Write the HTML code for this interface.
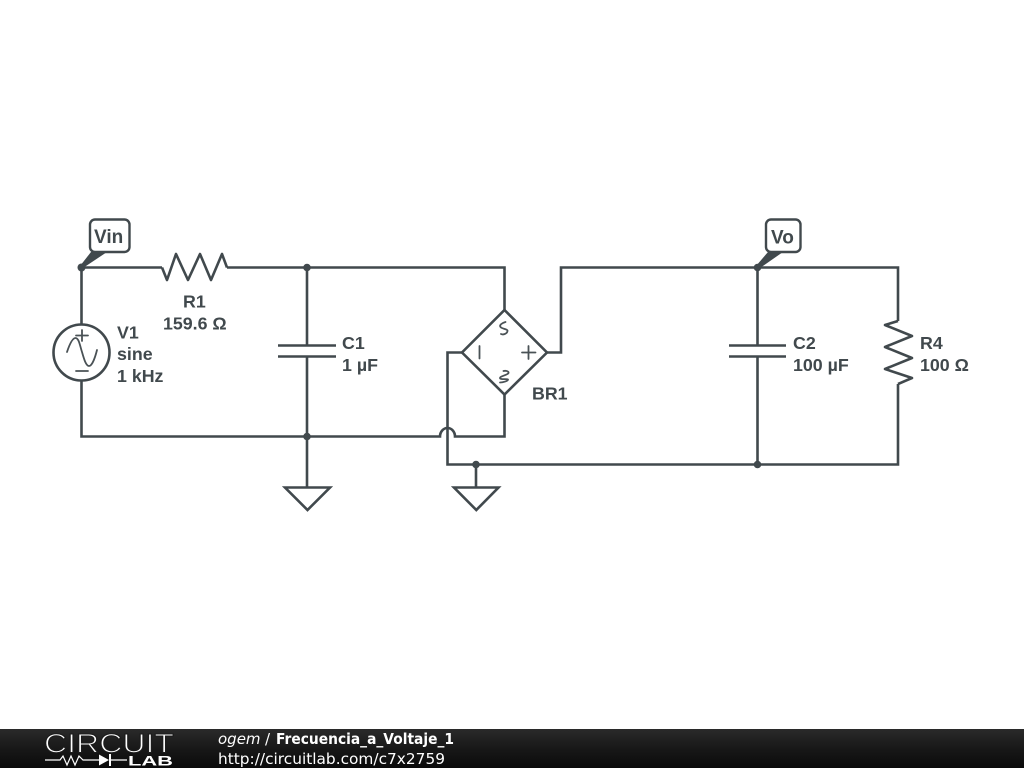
<!DOCTYPE html>
<html>
<head>
<meta charset="utf-8">
<style>
html,body{margin:0;padding:0;background:#fff;width:1024px;height:768px;overflow:hidden}
svg{display:block}
.w{fill:none;stroke:#41494d;stroke-width:2.6;stroke-linejoin:miter;stroke-linecap:butt}
.z{fill:none;stroke:#41494d;stroke-width:2.6;stroke-linejoin:round;stroke-linecap:butt}
.t{font-family:"Liberation Sans",sans-serif;font-weight:bold;font-size:17.8px;fill:#41494d}
.p{font-family:"Liberation Sans",sans-serif;font-weight:bold;font-size:19px;fill:#41494d}
.s{fill:none;stroke:#4a5256;stroke-width:1.8;stroke-linecap:round}
.f{font-family:"DejaVu Sans",sans-serif;font-size:15px;fill:#fff}
</style>
</head>
<body>
<svg width="1024" height="768" viewBox="0 0 1024 768" xmlns="http://www.w3.org/2000/svg">
<defs>
<linearGradient id="bar" x1="0" y1="0" x2="0" y2="1">
<stop offset="0" stop-color="#2a2a2a"/><stop offset="0.5" stop-color="#181818"/><stop offset="1" stop-color="#0a0a0a"/>
</linearGradient>
</defs>
<rect width="1024" height="768" fill="#fff"/>

<!-- wires -->
<path class="w" d="M81.500 324V267.500H162"/>
<path class="z" d="M162 267.500L167 280L176 254L188 280L200 254L211 280L222 254L227 267.500"/>
<path class="w" d="M227 267.500H504.500V310"/>
<path class="w" d="M81.500 381V436.500H440a7.500 8.500 0 0 1 15 0H504.500V395"/>
<path class="w" d="M307 267.500V345M307 357V487"/>
<path class="w" d="M278 345.500H336M278 356.500H336"/>
<path class="w" d="M285 487.500H330L307.500 510Z"/>
<path class="w" d="M462 352.500H447.500V464.500H898V384"/>
<path class="z" d="M898 384L912 378L885 369L912 358L885 347L912 336L885 325L898 321"/>
<path class="w" d="M898 321V267.500H561V352.500H547"/>
<path class="w" d="M476 464.500V487"/>
<path class="w" d="M454 487.500H498.500L476.300 510Z"/>
<path class="w" d="M757.500 267.500V345M757.500 357V464.500"/>
<path class="w" d="M729 345.500H786M729 356.500H786"/>

<!-- bridge -->
<path class="w" d="M504.500 310L547 352.500L504.500 394.500L462 352.500Z"/>
<path class="s" d="M522 352.500H535.500M528.500 346V359"/>
<path class="s" d="M479.500 346V358.500"/>
<path class="s" d="M505.500 322C502 323 499 325 500.500 327C502 329 508 329 507.500 331C507 334 503 335 501 334"/>
<path class="s" d="M503.500 371C505.500 370.500 509 371 508.500 373C508 375 500 376 500 378C500 380 507 378.500 508 379.500C508 381 503 382.500 500 382.500"/>

<!-- source -->
<circle cx="81.500" cy="352.500" r="28" fill="#fff" stroke="#41494d" stroke-width="2.600"/>
<path class="s" d="M67 352C70 343 73 338 75.500 338C79 338 80 346 82 352C84 359 86 366 89 366C92 366 95 358 97 350"/>
<path class="s" d="M76 335.500H88M82 330V341M76 371H88"/>

<!-- junctions -->
<g fill="#41494d">
<circle cx="81.500" cy="267.500" r="4"/>
<circle cx="307" cy="267.500" r="3.800"/>
<circle cx="307" cy="436.500" r="3.800"/>
<circle cx="476" cy="464.500" r="3.800"/>
<circle cx="757.500" cy="267.500" r="3.800"/>
<circle cx="757.500" cy="464.500" r="3.800"/>
</g>

<!-- probes -->
<path d="M80 266L91 252H107L83 268Z" fill="#41494d"/>
<rect x="90" y="219.500" width="39.500" height="32.500" rx="5" fill="#fff" stroke="#41494d" stroke-width="2.400"/>
<text class="p" x="94" y="243">Vin</text>
<path d="M756 266L768 252H783L760 268Z" fill="#41494d"/>
<rect x="766" y="219.500" width="34.500" height="32.500" rx="5" fill="#fff" stroke="#41494d" stroke-width="2.400"/>
<text class="p" x="771" y="243.500">Vo</text>

<!-- labels -->
<text class="t" x="183" y="307.500">R1</text>
<text class="t" x="163" y="329.500">159.6 Ω</text>
<text class="t" x="117" y="338.500">V1</text>
<text class="t" x="117" y="360">sine</text>
<text class="t" x="117" y="382">1 kHz</text>
<text class="t" x="342" y="349">C1</text>
<text class="t" x="342" y="371">1 µF</text>
<text class="t" x="532" y="399.500">BR1</text>
<text class="t" x="793" y="349">C2</text>
<text class="t" x="793" y="371">100 µF</text>
<text class="t" x="920" y="349">R4</text>
<text class="t" x="920" y="371">100 Ω</text>

<!-- footer -->
<rect x="0" y="729" width="1024" height="39" fill="url(#bar)"/>
<text x="44" y="752.500" font-family="'Liberation Sans',sans-serif" font-size="26.500" fill="#fff" stroke="#1c1c1c" stroke-width="1.100" style="paint-order:fill stroke" textLength="130" lengthAdjust="spacingAndGlyphs">CIRCUIT</text>
<path d="M45 760H60L63 756L67 765L71 756L75 765L79 756L83 760H99M111 760H127" fill="none" stroke="#fff" stroke-width="1.200"/>
<path d="M99 754.500L109 760L99 765.500Z" fill="#fff"/>
<path d="M110 754V766" stroke="#fff" stroke-width="2"/>
<text x="128" y="765.500" font-family="'Liberation Sans',sans-serif" font-weight="bold" font-size="14" fill="#fff" textLength="45" lengthAdjust="spacingAndGlyphs">LAB</text>
<text class="f" x="218" y="744" font-style="italic">ogem</text>
<text class="f" x="265" y="744">/</text>
<text class="f" x="276" y="744" font-weight="bold" textLength="178" lengthAdjust="spacingAndGlyphs">Frecuencia_a_Voltaje_1</text>
<text class="f" x="218" y="764" textLength="227" lengthAdjust="spacingAndGlyphs">http://circuitlab.com/c7x2759</text>
</svg>
</body>
</html>
